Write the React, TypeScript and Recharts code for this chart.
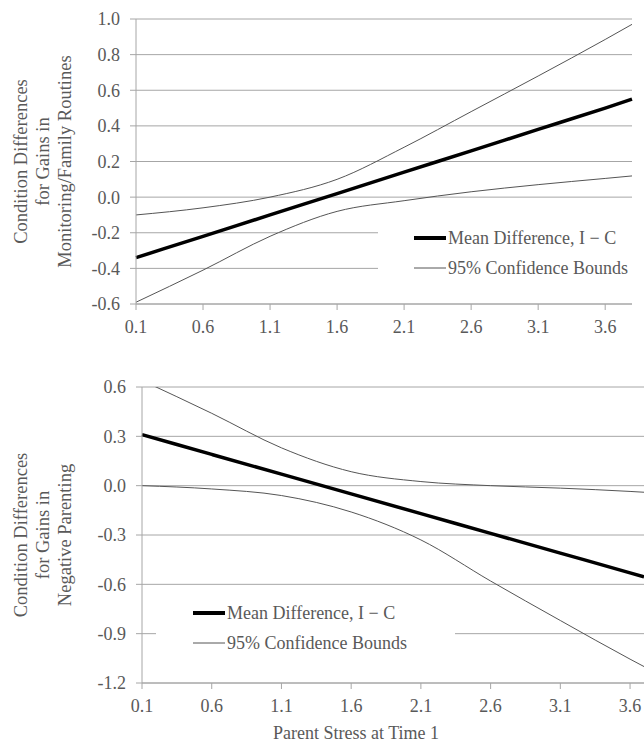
import React from 'react';
import { LineChart, Line, XAxis, YAxis, CartesianGrid, Legend } from 'recharts';

const FONT = '"Liberation Serif", "Times New Roman", serif';
const TEXT = '#595959';
const GRID = '#a6a6a6';
const BOUND = '#555555';

const MEAN_NAME = 'Mean Difference, I \u2212 C';
const BOUND_NAME = '95% Confidence Bounds';

// top panel: monitoring / family routines
const X_TOP = [0.1, 0.6, 1.1, 1.6, 2.1, 2.6, 3.1, 3.6, 3.8];
const MEAN_TOP = [-0.34, -0.22, -0.1, 0.02, 0.14, 0.26, 0.38, 0.5, 0.55];
const UPPER_TOP = [-0.1, -0.06, 0.0, 0.1, 0.28, 0.48, 0.68, 0.885, 0.97];
const LOWER_TOP = [-0.59, -0.41, -0.22, -0.08, -0.02, 0.03, 0.07, 0.105, 0.119];
const Y_TICKS_TOP = [-0.6, -0.4, -0.2, 0, 0.2, 0.4, 0.6, 0.8, 1.0];
const TITLE_TOP = ['Condition Differences', 'for Gains in', 'Monitoring/Family Routines'];

// bottom panel: negative parenting
const X_BOT = [0.1, 0.6, 1.1, 1.6, 2.1, 2.6, 3.1, 3.6, 3.7];
const MEAN_BOT = [0.31, 0.19, 0.07, -0.05, -0.17, -0.29, -0.41, -0.53, -0.555];
const UPPER_BOT = [0.64, 0.44, 0.23, 0.085, 0.025, 0.0, -0.015, -0.035, -0.04];
const LOWER_BOT = [0.0, -0.02, -0.06, -0.16, -0.33, -0.58, -0.82, -1.055, -1.1];
const Y_TICKS_BOT = [-1.2, -0.9, -0.6, -0.3, 0, 0.3, 0.6];
const TITLE_BOT = ['Condition Differences', 'for Gains in', 'Negative Parenting'];

const X_TICKS = [0.1, 0.6, 1.1, 1.6, 2.1, 2.6, 3.1, 3.6];
const X_TITLE = 'Parent Stress at Time 1';

const build = (xs: number[], mean: number[], upper: number[], lower: number[]) =>
  xs.map((x, i) => ({ x, mean: mean[i], upper: upper[i], lower: lower[i] }));

const topData = build(X_TOP, MEAN_TOP, UPPER_TOP, LOWER_TOP);
const botData = build(X_BOT, MEAN_BOT, UPPER_BOT, LOWER_BOT);

const tickStyle = { fill: TEXT, fontSize: 18, fontFamily: FONT };
const fmt = (v: number) => v.toFixed(1);

// three-line rotated axis title, centred on the plot height
const yTitle = (lines: string[]) => (props: any) => {
  const vb = props.viewBox || {};
  const cy = (vb.y ?? 20) + (vb.height ?? 285) / 2;
  return (
    <g transform={`translate(0, ${cy}) rotate(-90)`}>
      {lines.map((l, i) => (
        <text key={i} x={0} y={27 + i * 22} textAnchor="middle" fill={TEXT} fontSize={18.5} fontFamily={FONT}>
          {l}
        </text>
      ))}
    </g>
  );
};

const LegendBox = ({ padLeft, padTop }: { padLeft: number; padTop: number }) => (
  <div style={{ background: '#fff', paddingLeft: padLeft, paddingTop: padTop, fontFamily: FONT, fontSize: 18, color: TEXT }}>
    {[
      { name: MEAN_NAME, color: '#000', w: 4 },
      { name: BOUND_NAME, color: BOUND, w: 1 },
    ].map((r) => (
      <div key={r.name} style={{ display: 'flex', alignItems: 'center', height: 30, whiteSpace: 'nowrap' }}>
        <svg width={32} height={10}>
          <line x1={0} x2={32} y1={5} y2={5} stroke={r.color} strokeWidth={r.w} />
        </svg>
        <span style={{ marginLeft: 2 }}>{r.name}</span>
      </div>
    ))}
  </div>
);

export default function App() {
  return (
    <div style={{ position: 'absolute', left: 0, top: 0, width: 644, height: 742, overflow: 'hidden', background: '#fff', fontFamily: FONT }}>
      <div style={{ position: 'absolute', left: 0, top: 0 }}>
        <LineChart width={644} height={345} data={topData} margin={{ top: 19, right: 12, left: 0, bottom: 0 }} style={{ fontFamily: FONT }}>
          <CartesianGrid vertical={false} stroke={GRID} />
          <XAxis
            dataKey="x"
            type="number"
            domain={[0.1, 3.8]}
            ticks={X_TICKS}
            tickFormatter={fmt}
            height={41}
            stroke={GRID}
            tickSize={6}
            tickMargin={10}
            tick={tickStyle}
          />
          <YAxis
            type="number"
            domain={[-0.6, 1.0]}
            ticks={Y_TICKS_TOP}
            tickFormatter={fmt}
            width={136}
            stroke={GRID}
            tickSize={6}
            tickMargin={10}
            tick={tickStyle}
            label={{ content: yTitle(TITLE_TOP) }}
          />
          <Legend
            layout="vertical"
            align="center"
            verticalAlign="middle"
            wrapperStyle={{ left: 378, top: 215, width: 254, height: 80, background: '#fff' }}
            content={() => <LegendBox padLeft={36} padTop={8} />}
          />
          <Line dataKey="upper" name={BOUND_NAME} type="monotone" stroke={BOUND} strokeWidth={1} dot={false} activeDot={false} isAnimationActive={false} />
          <Line dataKey="lower" name={BOUND_NAME} type="monotone" stroke={BOUND} strokeWidth={1} dot={false} activeDot={false} isAnimationActive={false} />
          <Line dataKey="mean" name={MEAN_NAME} type="monotone" stroke="#000" strokeWidth={3.5} dot={false} activeDot={false} isAnimationActive={false} />
        </LineChart>
      </div>
      <div style={{ position: 'absolute', left: 0, top: 350 }}>
        <LineChart width={644} height={392} data={botData} margin={{ top: 37, right: 0, left: 0, bottom: 0 }} style={{ fontFamily: FONT }}>
          <CartesianGrid vertical={false} stroke={GRID} />
          <XAxis
            dataKey="x"
            type="number"
            domain={[0.1, 3.7]}
            ticks={X_TICKS}
            tickFormatter={fmt}
            height={59}
            stroke={GRID}
            tickSize={6}
            tickMargin={10}
            tick={tickStyle}
            label={{ value: X_TITLE, position: 'insideBottom', offset: 3, dx: -37, fill: TEXT, fontSize: 18, fontFamily: FONT }}
          />
          <YAxis
            type="number"
            domain={[-1.2, 0.6]}
            allowDataOverflow
            ticks={Y_TICKS_BOT}
            tickFormatter={fmt}
            width={142}
            stroke={GRID}
            tickSize={6}
            tickMargin={10}
            tick={tickStyle}
            label={{ content: yTitle(TITLE_BOT) }}
          />
          <Legend
            layout="vertical"
            align="center"
            verticalAlign="middle"
            wrapperStyle={{ left: 156, top: 248, width: 299, height: 62, background: '#fff' }}
            content={() => <LegendBox padLeft={37} padTop={0} />}
          />
          <Line dataKey="upper" name={BOUND_NAME} type="monotone" stroke={BOUND} strokeWidth={1} dot={false} activeDot={false} isAnimationActive={false} />
          <Line dataKey="lower" name={BOUND_NAME} type="monotone" stroke={BOUND} strokeWidth={1} dot={false} activeDot={false} isAnimationActive={false} />
          <Line dataKey="mean" name={MEAN_NAME} type="monotone" stroke="#000" strokeWidth={3.5} dot={false} activeDot={false} isAnimationActive={false} />
        </LineChart>
      </div>
    </div>
  );
}
